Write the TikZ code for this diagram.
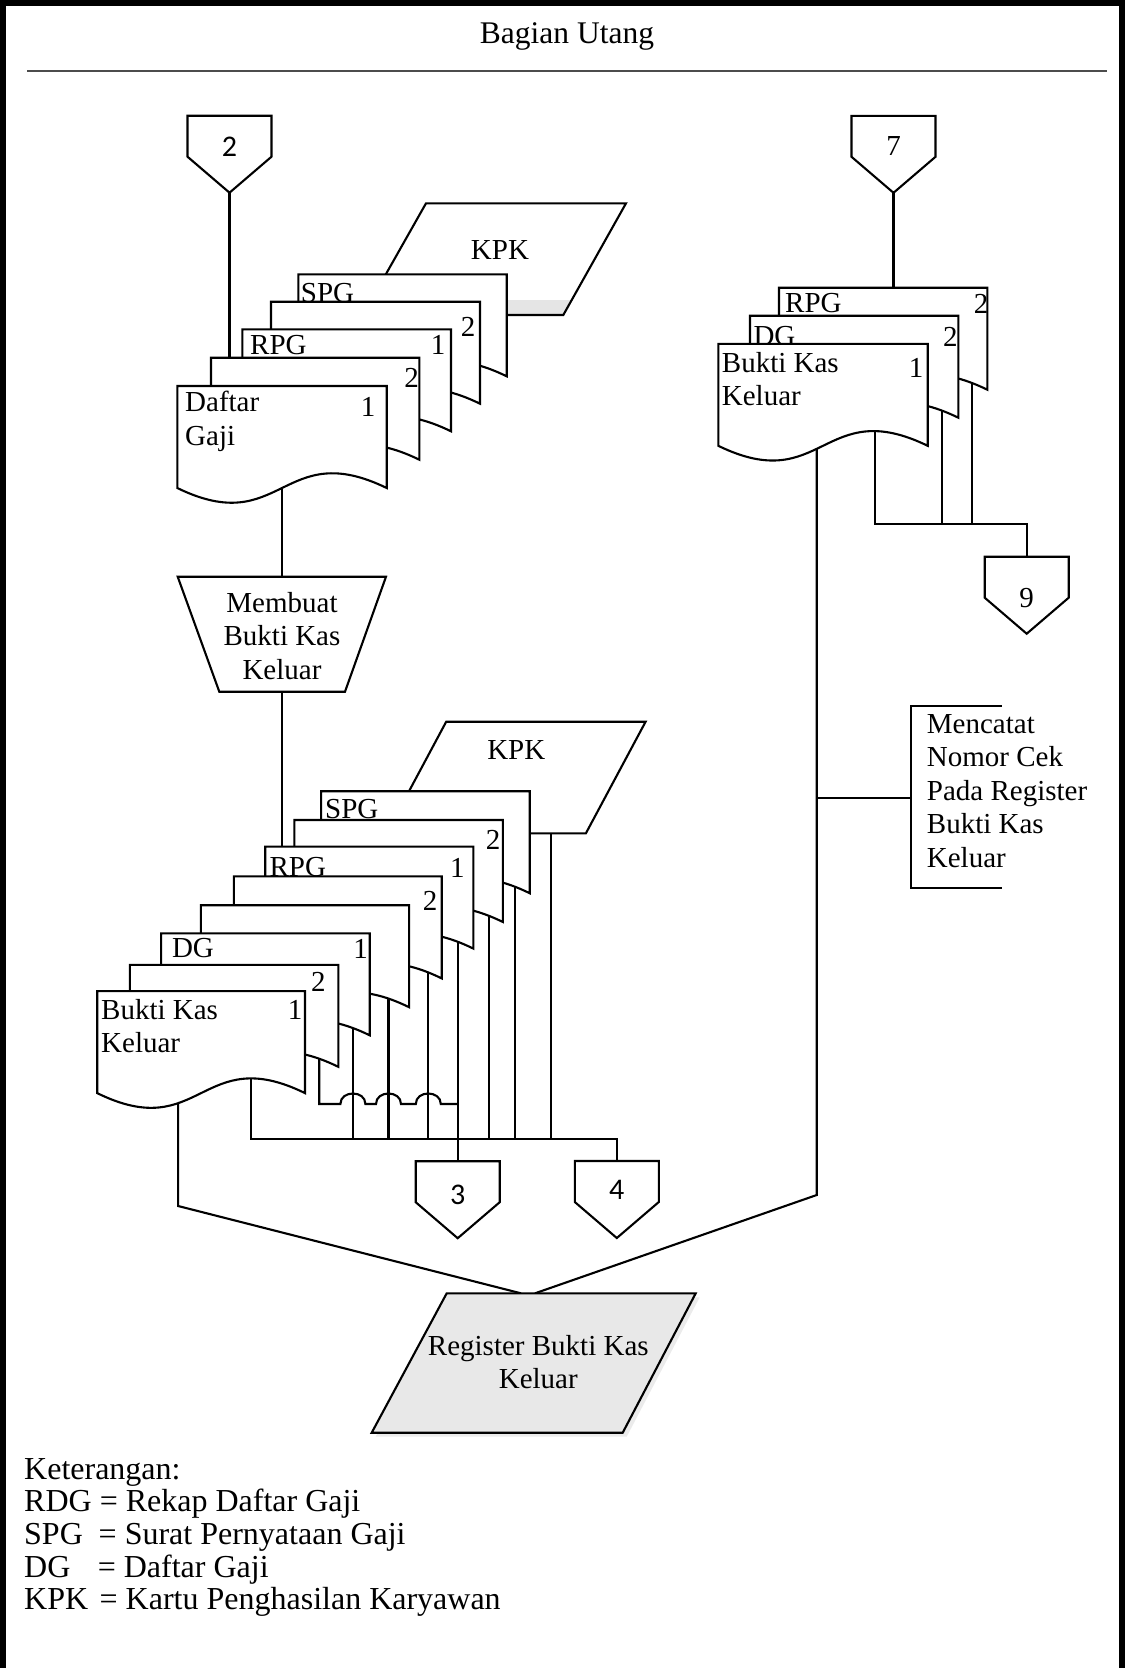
\documentclass[tikz,border=0pt]{standalone}
\usepackage{fontspec}
\setmainfont{Liberation Serif}
\newfontfamily\calibfont{Carlito}
\pgfdeclarelayer{background}
\pgfsetlayers{background,main}
\tikzset{
  ln/.style={line width=2.1pt, line join=miter},
  shp/.style={ln, fill=white},
  txt/.style={inner sep=0pt, font=\fontsize{29}{33.5}\selectfont},
  cnum/.style={inner sep=0pt, font=\calibfont\fontsize{30}{33.5}\selectfont},
}
\newcommand{\lstack}[1]{\vtop{\halign{##\hfil\cr#1\crcr}}}
\newcommand{\cstack}[1]{\vtop{\halign{\hfil##\hfil\cr#1\crcr}}}
% document sheet: name, left, top, right
\newcommand{\docsheet}[4]{%
  \draw[shp] (#2,#3) -- (#4,#3) -- (#4,#3+102) .. controls ({(#2+#4)/2},#3+51) and ({(#2+#4)/2},#3+153) .. (#2,#3+102) -- cycle;
  \coordinate (#1-nw) at (#2,#3);
}
% off-page connector: name, cx, top, label y, label, style
\newcommand{\offpg}[6]{%
  \draw[shp] (#2-42,#3) -- (#2+42,#3) -- (#2+42,#3+41) -- (#2,#3+77) -- (#2-42,#3+41) -- cycle;
  \coordinate (#1-top) at (#2,#3);
  \coordinate (#1-tip) at (#2,#3+77);
  \node[#6] (#1) at (#2,#4) {#5};
}
\begin{document}
\begin{tikzpicture}[x=1pt,y=-1pt]
\useasboundingbox (0,0) rectangle (1125,1668);
% frame and title
\draw[line width=6pt] (3,1690) -- (3,3) -- (1122,3) -- (1122,1690);
\node[inner sep=0pt, font=\fontsize{31.5}{36}\selectfont, anchor=base] (title) at (567,43) {Bagian Utang};
\draw[line width=2pt, black!70] (27,71) -- (1107,71);

% ---------- stack 1 ----------
\offpg{c2}{229.5}{115.7}{146.7}{2}{cnum}
\fill[white] (426,203.3) -- (626,203.3) -- (563.3,315) -- (362.8,315) -- cycle;
\fill[black!10] (506.7,300) -- (571.7,300) -- (563.3,315) -- (506.7,315) -- cycle;
\draw[ln] (426,203.3) -- (626,203.3) -- (563.3,315) -- (362.8,315) -- cycle;
\node[txt] (kpk1) at (500,250) {KPK};
\docsheet{s1spg}{298.3}{274.3}{506.7}
\node[txt, anchor=base west] (s1spgl) at (300.7,302) {SPG};
\docsheet{s1b}{271}{301.7}{480}
\node[txt] (s1bn) at (468,326.7) {2};
\docsheet{s1rpg}{242.3}{329.3}{451}
\node[txt, anchor=base west] (s1rpgl) at (250,354) {RPG};
\node[txt] (s1rpgn) at (438,345) {1};
\docsheet{s1c}{211}{357.7}{419.3}
\node[txt] (s1cn) at (411.5,378) {2};
\docsheet{s1dg}{177.3}{386}{386.7}
\node[txt, anchor=base west] (s1dgl) at (185,411.7) {\lstack{Daftar\cr Gaji}};
\node[txt] (s1dgn) at (368,406.7) {1};

% process
\draw[shp] (177.7,576.7) -- (386,576.7) -- (345,691.7) -- (219.3,691.7) -- cycle;
\node[txt, anchor=base] (mb) at (282,612) {\cstack{Membuat\cr Bukti Kas\cr Keluar}};
\coordinate (mb-top) at (282,576.7);
\coordinate (mb-bot) at (282,691.7);

% ---------- stack 2 ----------
\draw[shp] (446.2,721.7) -- (645.6,721.7) -- (585.9,833.3) -- (386.5,833.3) -- cycle;
\node[txt] (kpk2) at (516.3,750) {KPK};
\docsheet{s2spg}{321.1}{791.2}{529.7}
\node[txt, anchor=base west] (s2spgl) at (325,818.5) {SPG};
\docsheet{s2b}{294.3}{820}{502.9}
\node[txt] (s2bn) at (493,840.3) {2};
\docsheet{s2rpg}{265.2}{846.6}{473.4}
\node[txt, anchor=base west] (s2rpgl) at (269.4,876) {RPG};
\node[txt] (s2rpgn) at (457.3,867.5) {1};
\docsheet{s2a}{233.8}{876.4}{441.7}
\node[txt] (s2an) at (430,900.7) {2};
\docsheet{s2e}{200.9}{905.2}{409.1}
\docsheet{s2dg}{161.1}{933.3}{369.7}
\node[txt, anchor=base west] (s2dgl) at (171.8,957.5) {DG};
\node[txt] (s2dgn) at (360.5,949) {1};
\docsheet{s2two}{129.8}{964.8}{338.3}
\node[txt] (s2twon) at (318.3,982.3) {2};
\docsheet{s2bkk}{97.2}{991.1}{305}
\node[txt, anchor=base west] (s2bkkl) at (101,1019) {\lstack{Bukti Kas\cr Keluar}};
\node[txt] (s2bkkn) at (295,1009.5) {1};

\offpg{c3}{457.7}{1161.2}{1195}{3}{cnum}
\offpg{c4}{616.8}{1161}{1190}{4}{cnum}

% ---------- right stack ----------
\offpg{c7}{893.5}{115.8}{145.6}{7}{txt}
\docsheet{rrpg}{779}{287.7}{987.3}
\node[txt, anchor=base west] (rrpgl) at (785,312.2) {RPG};
\node[txt] (rrpgn) at (981.2,303.5) {2};
\docsheet{rdg}{750}{315.7}{958.3}
\node[txt, anchor=base west] (rdgl) at (753.3,345) {DG};
\node[txt] (rdgn) at (950.3,336.8) {2};
\docsheet{rbkk}{718.3}{343.8}{927.7}
\node[txt, anchor=base west] (rbkkl) at (721.7,372) {\lstack{Bukti Kas\cr Keluar}};
\node[txt] (rbkkn) at (916.2,368.3) {1};
\offpg{c9}{1026.7}{556.7}{598.3}{9}{txt}

% annotation
\draw[ln] (1001.7,706) -- (910.7,706) -- (910.7,888.3) -- (1001.7,888.3);
\node[txt, anchor=base west] (ann) at (926.7,733.3) {\lstack{Mencatat\cr Nomor Cek\cr Pada Register\cr Bukti Kas\cr Keluar}};
\coordinate (ann-w) at (910.7,797.7);

% register
\fill[black!8] (450.7,1297.3) -- (699.7,1297.3) -- (626.7,1436.7) -- (375.7,1436.7) -- cycle;
\draw[ln, fill=black!9] (446.7,1293.3) -- (695.7,1293.3) -- (622.7,1432.7) -- (371.7,1432.7) -- cycle;
\node[txt, anchor=base] (reg) at (538.3,1355) {\cstack{Register Bukti Kas\cr Keluar}};
\coordinate (reg-l) at (521,1293.3);
\coordinate (reg-r) at (535,1293.3);

% legend
\node[anchor=base west, inner sep=0pt, font=\fontsize{32}{32.7}\selectfont] (legend) at (24,1479)
  {\lstack{Keterangan:\cr RDG = Rekap Daftar Gaji\cr \makebox[2.33em][l]{SPG}= Surat Pernyataan Gaji\cr \makebox[2.3em][l]{DG}= Daftar Gaji\cr \makebox[2.36em][l]{KPK}= Kartu Penghasilan Karyawan}};

% ---------- connectors ----------
\coordinate (s1c-in) at (229.5,357.7);
\coordinate (s1dg-out) at (282,470);
\coordinate (s2rpg-in) at (282,846.6);
\coordinate (s2bkk-l) at (178.1,1080);
\coordinate (turn-l) at (178.1,1206);
\coordinate (s2bkk-c) at (251,1060);
\coordinate (bus4) at (251,1139);
\coordinate (s2dg-out) at (352.9,1010);
\coordinate (s2e-out) at (388.5,985);
\coordinate (s2a-out) at (428.3,960);
\coordinate (s2b-out) at (488.7,900);
\coordinate (s2spg-out) at (515.1,870);
\coordinate (kpk2-out) at (550.7,820);
\coordinate (s2two-out) at (319.2,1045);
\coordinate (s2rpg-out) at (457.7,930);
\coordinate (j3) at (457.7,1104);
\coordinate (rrpg-in) at (893.5,287.7);
\coordinate (rbkk-l) at (816.7,420);
\coordinate (turn-r) at (816.7,1195);
\coordinate (jann) at (816.7,797.7);
\coordinate (rbkk-c) at (875,420);
\coordinate (bus9) at (875,524);
\coordinate (rdg-out) at (941.7,400);
\coordinate (rrpg-out) at (972.3,375);

\begin{pgfonlayer}{background}
\draw[ln] (c2-tip) -- (s1c-in);
\draw[ln] (s1dg-out) -- (mb-top);
\draw[ln] (mb-bot) -- (s2rpg-in);
\draw[ln] (s2bkk-l) -- (turn-l) -- (reg-l);
\draw[ln] (s2bkk-c) -- (bus4) -| (c4-top);
\draw[ln] (s2dg-out) -- ([yshift=-1pt]s2dg-out |- bus4);
\draw[ln] (s2e-out) -- (s2e-out |- bus4);
\draw[ln] (s2a-out) -- (s2a-out |- bus4);
\draw[ln] (s2b-out) -- (s2b-out |- bus4);
\draw[ln] (s2spg-out) -- (s2spg-out |- bus4);
\draw[ln] (kpk2-out) -- (kpk2-out |- bus4);
\draw[ln] (s2rpg-out) -- (c3-top);
\draw[ln] (s2two-out) -- (319.2,1104) -- (340.4,1104)
  .. controls (340.4,1090) and (365.4,1090) .. (365.4,1104) -- (376,1104)
  .. controls (376,1090) and (401,1090) .. (401,1104) -- (415.8,1104)
  .. controls (415.8,1090) and (440.8,1090) .. (440.8,1104) -- (j3);
\draw[ln] (c7-tip) -- (rrpg-in);
\draw[ln] (rbkk-l) -- (turn-r) -- (reg-r);
\draw[ln] (jann) -- (ann-w);
\draw[ln] (rbkk-c) -- (bus9) -| (c9-top);
\draw[ln] (rdg-out) -- (rdg-out |- bus9);
\draw[ln] (rrpg-out) -- (rrpg-out |- bus9);
\end{pgfonlayer}
\end{tikzpicture}
\end{document}
